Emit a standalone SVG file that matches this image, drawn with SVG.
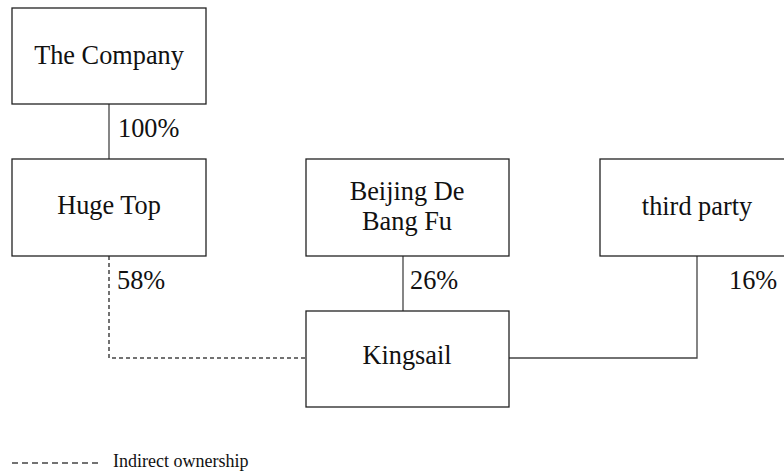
<svg xmlns="http://www.w3.org/2000/svg" width="784" height="471" viewBox="0 0 784 471">
<style>
.box{fill:#fff;stroke:#222;stroke-width:1.3}
.t{font-family:"Liberation Serif","Times New Roman",serif;font-size:26.3px;fill:#111}
.c{text-anchor:middle}
.ln{fill:none;stroke:#444;stroke-width:1.3}
.dash{stroke-dasharray:4 3;stroke-width:1.5}
.lg{font-family:"Liberation Serif","Times New Roman",serif;font-size:18px;fill:#111}
</style>
<rect width="784" height="471" fill="#fff"/>
<g id="connectors">
<path class="ln" d="M109 104V159"/>
<path class="ln dash" d="M109 256V358H306"/>
<path class="ln" d="M403 256V311"/>
<path class="ln" d="M697 256V358H509"/>
<text class="t" x="118" y="137">100%</text>
<text class="t" x="117" y="289">58%</text>
<text class="t" x="410" y="289">26%</text>
<text class="t" x="729" y="289">16%</text>
</g>
<g id="company"><rect class="box" x="12" y="8" width="194" height="96"/><text class="t c" x="109" y="64">The Company</text></g>
<g id="hugetop"><rect class="box" x="12" y="159" width="194" height="97"/><text class="t c" x="109" y="214">Huge Top</text></g>
<g id="beijing"><rect class="box" x="306" y="159" width="203" height="97"/><text class="t c" x="407" y="200">Beijing De</text><text class="t c" x="407" y="230">Bang Fu</text></g>
<g id="thirdparty"><rect class="box" x="600" y="159" width="194" height="97"/><text class="t c" x="697" y="215">third party</text></g>
<g id="kingsail"><rect class="box" x="306" y="311" width="203" height="96"/><text class="t c" x="407" y="364">Kingsail</text></g>
<g id="legend">
<path class="ln" d="M12 463H100" stroke-dasharray="6 4"/>
<text class="lg" x="113" y="467">Indirect ownership</text>
</g>
</svg>
